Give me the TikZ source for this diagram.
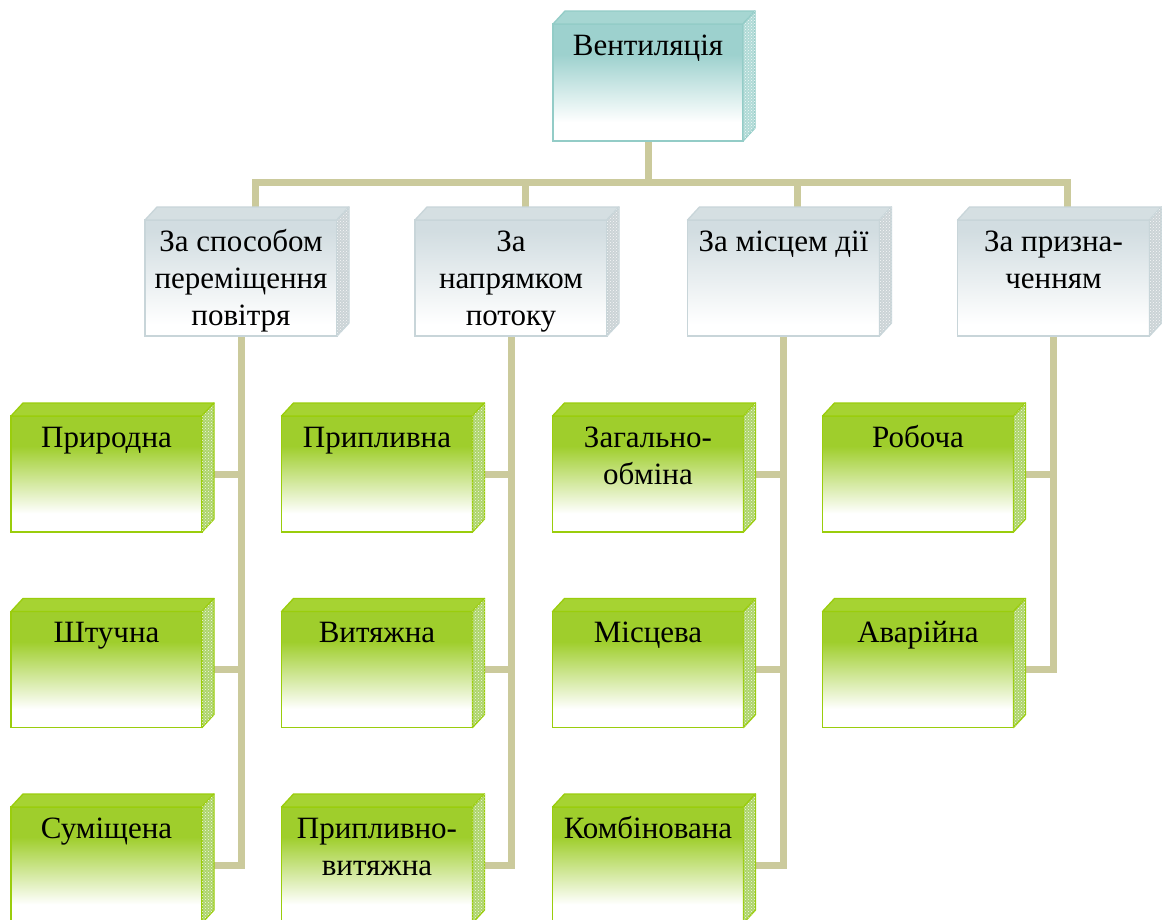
\documentclass[tikz,border=0pt]{standalone}
\usepackage{fontspec}
\setmainfont{Liberation Serif}
\usetikzlibrary{patterns}

% palette
\definecolor{tealc}{HTML}{9DD1CE}
\definecolor{tealedge}{HTML}{93CCC7}
\definecolor{tealtop}{HTML}{A6D6D2}
\definecolor{tealside}{HTML}{B0DAD6}
\definecolor{greyc}{HTML}{D2DDE1}
\definecolor{greyedge}{HTML}{C8D5D9}
\definecolor{greytop}{HTML}{D5DFE2}
\definecolor{greyside}{HTML}{CBD3D6}
\definecolor{greenc}{HTML}{9FCE2C}
\definecolor{greenedge}{HTML}{9ACD0C}
\definecolor{greentop}{HTML}{A6D332}
\definecolor{greenside}{HTML}{ADD46A}
\definecolor{linkc}{HTML}{CBCA9C}

% front-face fades: solid colour at the top, white towards the bottom
\pgfdeclareverticalshading{tealfade}{100bp}{color(0bp)=(white); color(33bp)=(white); color(62bp)=(tealc); color(100bp)=(tealc)}
\pgfdeclareverticalshading{greyfade}{100bp}{color(0bp)=(white); color(30bp)=(white); color(70bp)=(greyc); color(100bp)=(greyc)}
\pgfdeclareverticalshading{greenfade}{100bp}{color(0bp)=(white); color(33bp)=(white); color(62bp)=(greenc); color(100bp)=(greenc)}

\pgfdeclarelayer{background}
\pgfsetlayers{background,main}

\tikzset{
  face/.style={inner sep=0pt, outer sep=0pt, line width=1.3pt},
  rootbox/.style={face, draw=tealedge, shading=tealfade, minimum width=190pt, minimum height=117pt},
  groupbox/.style={face, draw=greyedge, shading=greyfade, minimum width=192pt, minimum height=116pt},
  leafbox/.style={face, draw=greenedge, shading=greenfade, minimum width=191pt, minimum height=116pt},
  caption/.style={anchor=north, inner sep=0pt, align=center,
    font=\fontsize{31}{37}\selectfont},
  link/.style={draw=linkc, line width=7pt, line join=miter, line cap=butt},
}

% top and right faces of a box, drawn from the node's corners
\newcommand\boxfaces[4]{%
  \path[fill=#2, draw=#4, line width=1.3pt, line join=round]
    (#1.north west) -- ++(12,-13) -- ([shift={(12,-13)}]#1.north east) -- (#1.north east) -- cycle;
  \path[fill=#3, draw=#4, line width=1.3pt, line join=round]
    (#1.north east) -- ++(12,-13) -- ([shift={(12,-13)}]#1.south east) -- (#1.south east) -- cycle;
  \path[pattern=crosshatch dots, pattern color=white!85!#3]
    (#1.north east) -- ++(12,-13) -- ([shift={(12,-13)}]#1.south east) -- (#1.south east) -- cycle;
}
\newcommand\firstline{\rule{0pt}{26pt}}

\begin{document}
\begin{tikzpicture}[x=1pt, y=-1pt]
\useasboundingbox (0,0) rectangle (1162,919);

% root
\node[rootbox] (V) at (648,82.5) {};
\boxfaces{V}{tealtop}{tealside}{tealedge}
\node[caption] (tV) at ([yshift=-5pt]V.north) {\firstline Вентиляція};

% groups
\node[groupbox] (C1) at (241,278) {};
\node[groupbox] (C2) at (511,278) {};
\node[groupbox] (C3) at (783.5,278) {};
\node[groupbox] (C4) at (1053.5,278) {};
\foreach \n in {C1,C2,C3,C4} {\boxfaces{\n}{greytop}{greyside}{greyedge}}
\node[caption] (tC1) at ([yshift=-5pt]C1.north) {\firstline За способом\\переміщення\\повітря};
\node[caption] (tC2) at ([yshift=-5pt]C2.north) {\firstline За\\напрямком\\потоку};
\node[caption] (tC3) at ([yshift=-5pt]C3.north) {\firstline За місцем дії};
\node[caption] (tC4) at ([yshift=-5pt]C4.north) {\firstline За призна-\\ченням};

% leaves
\node[leafbox] (G11) at (106.5,474) {};
\node[leafbox] (G12) at (106.5,669.5) {};
\node[leafbox] (G13) at (106.5,865) {};
\node[leafbox] (G21) at (377,474) {};
\node[leafbox] (G22) at (377,669.5) {};
\node[leafbox] (G23) at (377,865) {};
\node[leafbox] (G31) at (648,474) {};
\node[leafbox] (G32) at (648,669.5) {};
\node[leafbox] (G33) at (648,865) {};
\node[leafbox] (G41) at (918,474) {};
\node[leafbox] (G42) at (918,669.5) {};
\foreach \n in {G11,G12,G13,G21,G22,G23,G31,G32,G33,G41,G42}
  {\boxfaces{\n}{greentop}{greenside}{greenedge}}

\node[caption] (tG11) at ([yshift=-5pt]G11.north) {\firstline Природна};
\node[caption] (tG12) at ([yshift=-5pt]G12.north) {\firstline Штучна};
\node[caption] (tG13) at ([yshift=-5pt]G13.north) {\firstline Суміщена};
\node[caption] (tG21) at ([yshift=-5pt]G21.north) {\firstline Припливна};
\node[caption] (tG22) at ([yshift=-5pt]G22.north) {\firstline Витяжна};
\node[caption] (tG23) at ([yshift=-5pt]G23.north) {\firstline Припливно-\\витяжна};
\node[caption] (tG31) at ([yshift=-5pt]G31.north) {\firstline Загально-\\обміна};
\node[caption] (tG32) at ([yshift=-5pt]G32.north) {\firstline Місцева};
\node[caption] (tG33) at ([yshift=-5pt]G33.north) {\firstline Комбінована};
\node[caption] (tG41) at ([yshift=-5pt]G41.north) {\firstline Робоча};
\node[caption] (tG42) at ([yshift=-5pt]G42.north) {\firstline Аварійна};

% connectors, behind the boxes
\begin{pgfonlayer}{background}
  \fill[white] (0,0) rectangle (1162,919);
  \draw[link] (V.south) -- ++(0,41) coordinate (hub);
  \draw[link] ([xshift=14pt]C1.north) -- ([xshift=14pt]C1.north |- hub)
              -- ([xshift=14pt]C4.north |- hub) -- ([xshift=14pt]C4.north);
  \draw[link] ([xshift=14pt]C2.north |- hub) -- ([xshift=14pt]C2.north);
  \draw[link] ([xshift=14pt]C3.north |- hub) -- ([xshift=14pt]C3.north);

  \draw[link] (C1.south) -- (C1.south |- G13.east) -- (G13.east);
  \draw[link] (C1.south |- G11.east) -- (G11.east);
  \draw[link] (C1.south |- G12.east) -- (G12.east);

  \draw[link] (C2.south) -- (C2.south |- G23.east) -- (G23.east);
  \draw[link] (C2.south |- G21.east) -- (G21.east);
  \draw[link] (C2.south |- G22.east) -- (G22.east);

  \draw[link] (C3.south) -- (C3.south |- G33.east) -- (G33.east);
  \draw[link] (C3.south |- G31.east) -- (G31.east);
  \draw[link] (C3.south |- G32.east) -- (G32.east);

  \draw[link] (C4.south) -- (C4.south |- G42.east) -- (G42.east);
  \draw[link] (C4.south |- G41.east) -- (G41.east);
\end{pgfonlayer}
\end{tikzpicture}
\end{document}
